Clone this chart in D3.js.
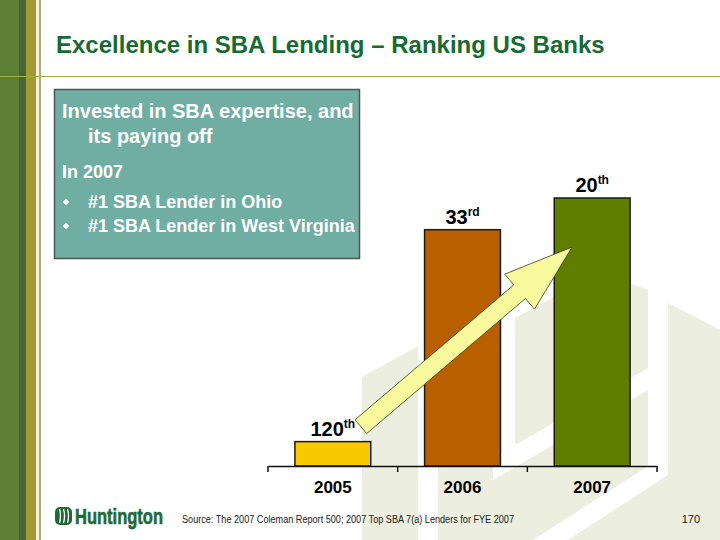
<!DOCTYPE html>
<html>
<head>
<meta charset="utf-8">
<script src="https://cdn.jsdelivr.net/npm/d3@7"></script>
<style>
  body { margin: 0; background: #fff; }
  svg { display: block; }
</style>
</head>
<body>
<svg id="slide"></svg>
<script>
// chart values
var years = ["2005", "2006", "2007"];
var rankNumbers = ["120", "33", "20"];
var rankSuffixes = ["th", "rd", "th"];
var barScores = [10, 97, 110];   // bar heights as drawn (relative units)
var barColors = ["#f8c800", "#b86000", "#5f7e00"];

var titleText = "Excellence in SBA Lending \u2013 Ranking US Banks";
var boxHeadLines = ["Invested in SBA expertise, and", "its paying off"];
var boxSubHead = "In 2007";
var boxBullets = ["#1 SBA Lender in Ohio", "#1 SBA Lender in West Virginia"];
var sourceText = "Source: The 2007 Coleman Report 500; 2007 Top SBA  7(a) Lenders for FYE 2007";
var pageNumber = "170";

var width = 720, height = 540;
var svg = d3.select("#slide")
    .attr("width", width)
    .attr("height", height)
    .style("font-family", "'Liberation Sans', Arial, sans-serif");

// faint logo watermark in the background
var wm = svg.append("g");
var beige = "#eceee0";
[
  [[362, 377], [418, 346], [418, 540], [362, 540]],
  [[438, 280], [720, 280], [720, 540], [438, 540]]
].forEach(p => wm.append("polygon").attr("points", p.join(" ")).attr("fill", beige));
[
  [[502, 270], [515, 270], [515, 445], [502, 453]],
  [[515, 270], [648, 270], [648, 290], [600, 272], [515, 318]],
  [[493, 458], [648, 368], [648, 390], [493, 480]],
  [[648, 270], [668, 270], [668, 475], [568, 540], [533, 540], [648, 466]],
  [[668, 270], [720, 270], [720, 330], [668, 303]]
].forEach(p => wm.append("polygon").attr("points", p.join(" ")).attr("fill", "#fff"));

// left sidebar stripes
var stripes = [
  { x: 0, w: 19, c: "#5e7e34" },
  { x: 19, w: 7, c: "#436737" },
  { x: 26, w: 10, c: "#a39b32" },
  { x: 36, w: 3, c: "#f4f2e2" },
  { x: 39, w: 2, c: "#b3ad6a" }
];
svg.selectAll(".stripe")
  .data(stripes)
  .enter()
  .append("rect")
    .attr("x", d => d.x)
    .attr("y", 0)
    .attr("width", d => d.w)
    .attr("height", height)
    .attr("fill", d => d.c);

svg.append("line")
    .attr("x1", 0).attr("x2", width)
    .attr("y1", 76.5).attr("y2", 76.5)
    .attr("stroke", "#a2b142")
    .attr("stroke-width", 1);

svg.append("text")
    .attr("x", 56)
    .attr("y", 53)
    .attr("font-size", 24)
    .attr("font-weight", "bold")
    .attr("fill", "#176b30")
    .text(titleText);

// teal text box
var box = svg.append("g");
box.append("rect")
    .attr("x", 54.5).attr("y", 89.5)
    .attr("width", 305).attr("height", 169)
    .attr("fill", "#70aea4")
    .attr("stroke", "#4f5552")
    .attr("stroke-width", 1.5);
box.append("text")
    .attr("x", 62).attr("y", 118)
    .attr("font-size", 20).attr("font-weight", "bold").attr("fill", "#fff")
    .text(boxHeadLines[0]);
box.append("text")
    .attr("x", 88).attr("y", 143)
    .attr("font-size", 20).attr("font-weight", "bold").attr("fill", "#fff")
    .text(boxHeadLines[1]);
box.append("text")
    .attr("x", 62).attr("y", 178)
    .attr("font-size", 18).attr("font-weight", "bold").attr("fill", "#fff")
    .text(boxSubHead);
boxBullets.forEach((t, i) => {
  var by = 208 + i * 24;
  box.append("path")
      .attr("d", d3.symbol(d3.symbolSquare, 22)())
      .attr("transform", "translate(66," + (by - 6) + ") rotate(45)")
      .attr("fill", "#fff");
  box.append("text")
      .attr("x", 88).attr("y", by)
      .attr("font-size", 18).attr("font-weight", "bold").attr("fill", "#fff")
      .text(t);
});

// bar chart
var x = d3.scaleBand()
          .domain(years)
          .range([268, 657]);
var y = d3.scaleLinear()
          .domain([0, 110])
          .range([466, 198]);
var barW = x.bandwidth() * 0.585;
var rows = years.map((yr, i) => ({
  year: yr, score: barScores[i], num: rankNumbers[i], suf: rankSuffixes[i], color: barColors[i]
}));

var chart = svg.append("g");
chart.selectAll(".bar")
  .data(rows)
  .enter()
  .append("rect")
    .classed("bar", true)
    .attr("x", d => x(d.year) + (x.bandwidth() - barW) / 2)
    .attr("y", d => y(d.score))
    .attr("width", barW)
    .attr("height", d => y(0) - y(d.score))
    .attr("fill", d => d.color)
    .attr("stroke", "#1a1a1a")
    .attr("stroke-width", 1.5);

var axis = chart.append("g")
    .attr("transform", "translate(0," + y(0) + ")")
    .call(d3.axisBottom(x).tickSize(0).tickSizeOuter(0).tickPadding(15));
axis.select(".domain").attr("stroke", "#111").attr("stroke-width", 1.5);
axis.selectAll(".tick text")
    .attr("font-size", 17)
    .attr("font-weight", "bold")
    .attr("font-family", "'Liberation Sans', Arial, sans-serif")
    .attr("fill", "#000");
var edges = years.map(d => x(d)).concat([x.range()[1]]);
axis.selectAll(".edge")
  .data(edges)
  .enter()
  .append("line")
    .attr("x1", d => d).attr("x2", d => d)
    .attr("y1", 0).attr("y2", 6)
    .attr("stroke", "#111")
    .attr("stroke-width", 1.5);

var labels = chart.selectAll(".rank")
  .data(rows)
  .enter()
  .append("text")
    .classed("rank", true)
    .attr("x", d => x(d.year) + x.bandwidth() / 2)
    .attr("y", d => y(d.score) - 6)
    .attr("text-anchor", "middle")
    .attr("font-weight", "bold")
    .attr("fill", "#000");
labels.append("tspan").attr("font-size", 20).text(d => d.num);
labels.append("tspan").attr("font-size", 12).attr("dy", -8).text(d => d.suf);

// rising arrow from the 2005 bar to the 2007 bar
var tail = [x("2005") + x.bandwidth() / 2 + 28, y(barScores[0]) - 15];
var tip = [x("2007") + x.bandwidth() / 2 - 20, y(barScores[2]) + 49];
var dx = tip[0] - tail[0], dy = tip[1] - tail[1];
var len = Math.hypot(dx, dy);
var ux = dx / len, uy = dy / len, nx = -uy, ny = ux;
var shaftW = 9, headW = 23, headL = 69;
function pt(along, across) {
  return [tail[0] + ux * along + nx * across, tail[1] + uy * along + ny * across];
}
var arrowPts = [
  pt(0, -shaftW), pt(len - headL, -shaftW), pt(len - headL, -headW),
  pt(len, 0),
  pt(len - headL, headW), pt(len - headL, shaftW), pt(0, shaftW)
];
chart.append("polygon")
    .attr("points", arrowPts.map(p => p.join(",")).join(" "))
    .attr("fill", "#f8f89c")
    .attr("stroke", "#3a3a2a")
    .attr("stroke-width", 0.8);

// footer: logo, source, page number
var logo = svg.append("g");
logo.append("rect")
    .attr("x", 55).attr("y", 507)
    .attr("width", 17).attr("height", 18)
    .attr("rx", 5)
    .attr("fill", "#1e6a35");
[59.5, 63.5, 67.5].forEach(lx => {
  logo.append("path")
      .attr("d", "M" + lx + ",509 q2,7 0,14")
      .attr("stroke", "#fff")
      .attr("stroke-width", 1.3)
      .attr("fill", "none");
});
logo.append("text")
    .attr("x", 75).attr("y", 524)
    .attr("font-family", "'Liberation Sans Narrow', 'Liberation Sans', Arial, sans-serif")
    .attr("font-size", 22)
    .attr("font-weight", "bold")
    .attr("fill", "#1e6a35")
    .attr("stroke", "#1e6a35")
    .attr("stroke-width", 0.6)
    .attr("textLength", 88)
    .attr("lengthAdjust", "spacingAndGlyphs")
    .text("Huntington");

svg.append("text")
    .attr("x", 182).attr("y", 523)
    .attr("font-size", 10)
    .attr("fill", "#222")
    .attr("textLength", 332)
    .attr("lengthAdjust", "spacingAndGlyphs")
    .text(sourceText);

svg.append("text")
    .attr("x", 700).attr("y", 523)
    .attr("text-anchor", "end")
    .attr("font-size", 11)
    .attr("fill", "#222")
    .text(pageNumber);
</script>
</body>
</html>
